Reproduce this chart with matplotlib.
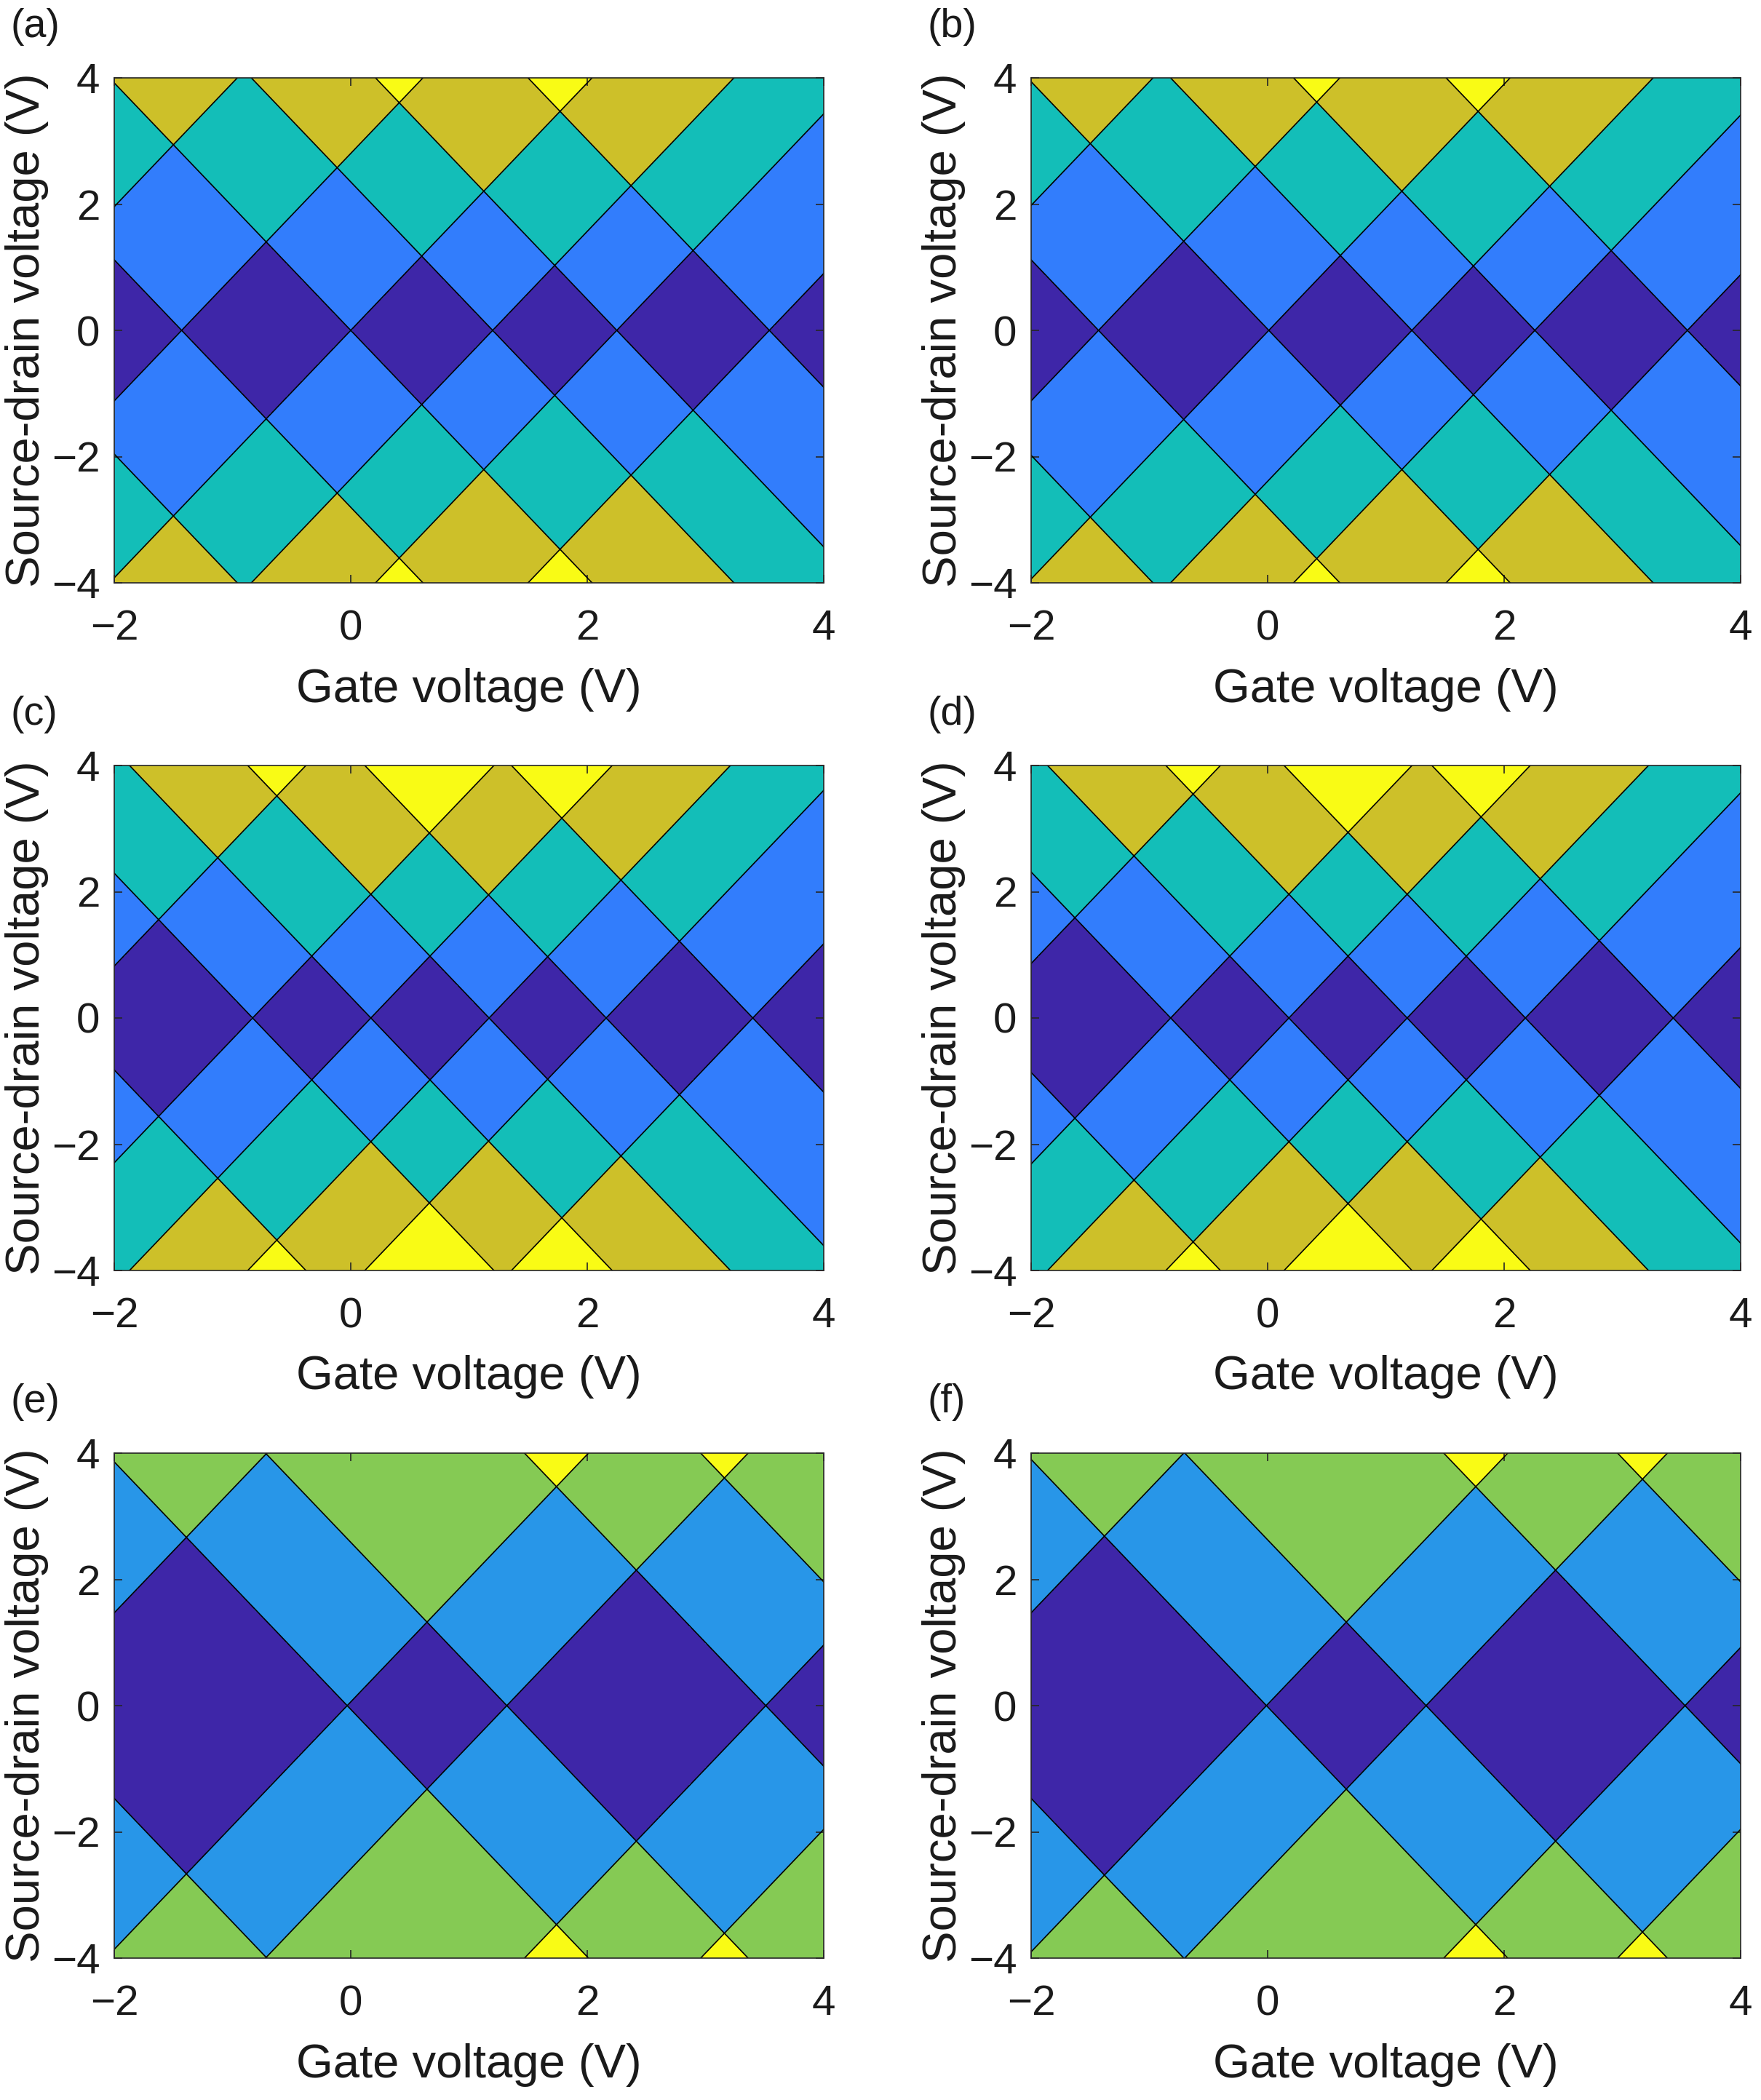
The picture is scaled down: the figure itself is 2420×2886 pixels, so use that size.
import numpy as np
import matplotlib
matplotlib.use('Agg')
import matplotlib.pyplot as plt
from matplotlib.colors import LinearSegmentedColormap, Normalize

plt.rcParams['font.family'] = ['Liberation Sans', 'DejaVu Sans']

# --- Data: charge degeneracy points (gate voltage where diamonds touch at zero bias) ---
SLOPE = 1.96   # |Vsd| / |Vg - Vn| of the diamond edges
points_a = [-3.00, -1.43, 0.00, 1.20, 2.25, 3.54]
points_b = [-3.01, -1.43, 0.01, 1.22, 2.26, 3.55]
points_c = [-2.42, -0.83, 0.17, 1.17, 2.16, 3.40]
points_d = [-2.44, -0.82, 0.18, 1.18, 2.18, 3.43]
points_e = [-2.75, -0.03, 1.32, 3.51, 5.00]
points_f = [-2.75, -0.01, 1.34, 3.53, 5.00]
labels = ['(a)', '(b)', '(c)', '(d)', '(e)', '(f)']
gate_ticks = [-2, 0, 2, 4]
bias_ticks = [-4, -2, 0, 2, 4]
gate_lim = (-2, 4)
bias_lim = (-4, 4)

# parula-like colormap
parula = LinearSegmentedColormap.from_list('parula', [
    (0.0, (0.2422, 0.1504, 0.6603)),
    (0.25, (0.196, 0.490, 0.990)),
    (1/3, (0.157, 0.588, 0.910)),
    (0.5, (0.071, 0.745, 0.725)),
    (2/3, (0.520, 0.792, 0.330)),
    (0.75, (0.800, 0.750, 0.160)),
    (1.0, (0.977, 0.984, 0.081)),
])

gate = np.linspace(gate_lim[0], gate_lim[1], 1201)
bias = np.linspace(bias_lim[0], bias_lim[1], 1601)
G, B = np.meshgrid(gate, bias)


def count_levels(points):
    # number of charge levels inside the bias window
    n = np.zeros_like(G)
    for x0 in points:
        n += np.abs(B) > SLOPE * np.abs(G - x0)
    return n


W, H = 2420, 2886
fig = plt.figure(figsize=(W / 200, H / 200), dpi=200)

lefts = [157, 1417]
tops = [107, 1052, 1997]
ax_w, ax_h = 975, 694

all_points = [points_a, points_b, points_c, points_d, points_e, points_f]
for i, (lab, pts) in enumerate(zip(labels, all_points)):
    row, col = divmod(i, 2)
    rect = [lefts[col] / W, 1 - (tops[row] + ax_h) / H, ax_w / W, ax_h / H]
    ax = fig.add_axes(rect)

    n = count_levels(pts)
    top = n.max()
    ax.contourf(G, B, n, levels=np.arange(-0.5, top + 1), cmap=parula,
                norm=Normalize(0, top), antialiased=False)
    for x0 in pts:
        ax.axline((x0, 0), slope=SLOPE, color='k', lw=0.6)
        ax.axline((x0, 0), slope=-SLOPE, color='k', lw=0.6)

    ax.set_xlim(*gate_lim)
    ax.set_ylim(*bias_lim)
    ax.set_xticks(gate_ticks)
    ax.set_yticks(bias_ticks)
    ax.tick_params(direction='in', top=True, right=True, length=4, width=0.6,
                   color='0.15', labelcolor='0.1', labelsize=21)
    ax.tick_params(axis='x', pad=13)
    ax.tick_params(axis='y', pad=7)
    for s in ax.spines.values():
        s.set_linewidth(0.6)
        s.set_color('0.15')
    ax.set_xlabel('Gate voltage (V)', fontsize=23.5, labelpad=9.5, color='0.1')
    ax.set_ylabel('Source-drain voltage (V)', fontsize=23.5, labelpad=1.5, color='0.1')
    ax.text(-142 / ax_w, 1 + 70 / ax_h, lab, transform=ax.transAxes,
            fontsize=20, ha='left', va='center', color='0.1')

fig.savefig('out.png', dpi=200)
